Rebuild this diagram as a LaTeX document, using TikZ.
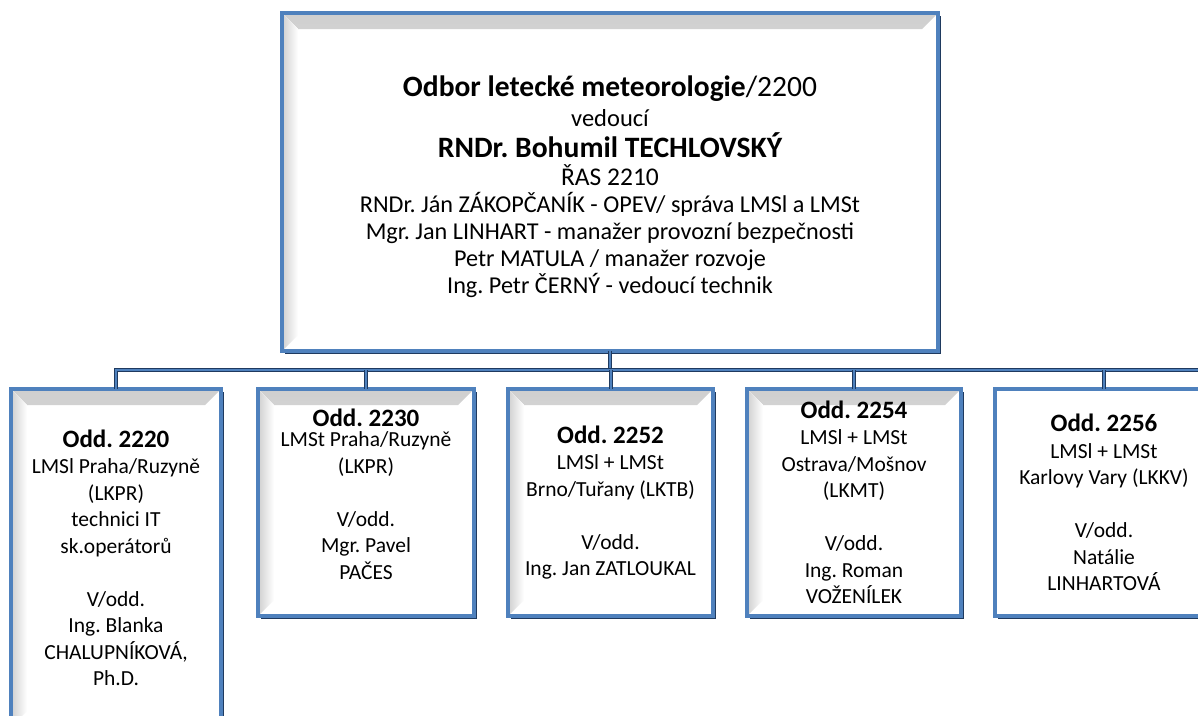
\documentclass[tikz,border=0pt]{standalone}
\usepackage{fontspec}
\setmainfont{Carlito}
\usepackage{tikz}
\usetikzlibrary{positioning,shadows}
\definecolor{BoxBlue}{HTML}{4F81BD}
\definecolor{BoxDark}{HTML}{1F3A5F}
\definecolor{BevelGray}{HTML}{CFCFCF}
\frenchspacing

\begin{document}
\begin{tikzpicture}[
  x=1pt,y=-1pt,
  node distance=34pt,
  orgbox/.style={draw=BoxBlue,fill=white,line width=3.5pt,outer sep=0pt,align=center,
    font=\fontsize{21.5}{26.5}\selectfont,
    drop shadow={shadow xshift=3pt,shadow yshift=-3pt,fill=BoxDark,opacity=1},
    path picture={
      \fill[top color=BevelGray,bottom color=white]
        (path picture bounding box.north west) -- (path picture bounding box.north east)
        -- ([xshift=-16pt,yshift=-16pt]path picture bounding box.north east)
        -- ([xshift=16pt,yshift=-16pt]path picture bounding box.north west) -- cycle;
      \fill[left color=BevelGray,right color=white]
        (path picture bounding box.north west) -- ([xshift=16pt,yshift=-16pt]path picture bounding box.north west)
        -- ([xshift=16pt,yshift=16pt]path picture bounding box.south west)
        -- (path picture bounding box.south west) -- cycle;
    }},
  flatbox/.style={orgbox,path picture={}},
  conn/.style={draw=BoxDark,line width=4pt,postaction={draw=BoxBlue,line width=2pt}}
]
\useasboundingbox (0,0) rectangle (1198,715);
% vedeni odboru
\node[orgbox,minimum width=656pt,minimum height=338pt,anchor=north] (odbor) at (610,13) {%
  {\fontsize{29.5}{30}\selectfont\rule{0pt}{30pt}\textbf{Odbor letecké meteorologie}/2200}\\[4pt]
  {\fontsize{24.5}{26}\selectfont vedoucí}\\[4pt]
  {\fontsize{29.6}{30}\selectfont\bfseries RNDr. Bohumil TECHLOVSKÝ}\\[2pt]
  {\fontsize{25.5}{28}\selectfont ŘAS 2210}\\
  {\fontsize{24.2}{26}\selectfont RNDr. Ján ZÁKOPČANÍK - OPEV/ správa LMSl a LMSt}\\[0.5pt]
  {\fontsize{24.2}{26}\selectfont Mgr. Jan LINHART - manažer provozní bezpečnosti}\\[0.5pt]
  {\fontsize{24.2}{26}\selectfont Petr MATULA / manažer rozvoje}\\[0.5pt]
  {\fontsize{24.2}{26}\selectfont Ing. Petr ČERNÝ - vedoucí technik}};
% oddeleni
\node[orgbox,minimum width=210pt,minimum height=338pt,anchor=north west] (odd2220) at (11,389) {%
  {\fontsize{25}{26.5}\selectfont\bfseries Odd. 2220}\\
  LMSl Praha/Ruzyně\\
  (LKPR)\\
  technici IT\\
  sk.operátorů\\[26.5pt]
  V/odd.\\
  Ing. Blanka\\
  CHALUPNÍKOVÁ,\\
  Ph.D.};
\node[orgbox,minimum width=216pt,minimum height=227pt,right=37pt of odd2220.north east,anchor=north west] (odd2230) {%
  {\fontsize{25}{26.5}\selectfont\bfseries Odd. 2230}\\[-6pt]
  LMSt Praha/Ruzyně\\
  (LKPR)\\[26.5pt]
  V/odd.\\
  Mgr. Pavel\\
  PAČES\rule[-17pt]{0pt}{17pt}};
\node[orgbox,minimum width=205pt,minimum height=227pt,right=of odd2230.north east,anchor=north west] (odd2252) {%
  {\fontsize{25}{26.5}\selectfont\bfseries Odd. 2252}\\
  LMSl + LMSt\\
  Brno/Tuřany (LKTB)\\[26.5pt]
  V/odd.\\
  Ing. Jan ZATLOUKAL};
\node[orgbox,minimum width=214pt,minimum height=227pt,right=of odd2252.north east,anchor=north west] (odd2254) {%
  {\fontsize{25}{26.5}\selectfont\bfseries Odd. 2254}\\
  LMSl + LMSt\\
  Ostrava/Mošnov\\
  (LKMT)\\[26.5pt]
  V/odd.\\
  Ing. Roman\\
  VOŽENÍLEK};
\node[flatbox,minimum width=218pt,minimum height=227pt,right=of odd2254.north east,anchor=north west] (odd2256) {%
  {\fontsize{25}{26.5}\selectfont\bfseries Odd. 2256}\\
  LMSl + LMSt\\
  Karlovy Vary (LKKV)\\[26.5pt]
  V/odd.\\
  Natálie\\
  LINHARTOVÁ};
% spojnice
\coordinate[below=19pt of odbor.south] (hub);
\coordinate (barend) at (1215,370);
\draw[conn] (odbor.south) -- (hub);
\draw[conn] (odd2220.north) |- (barend);
\draw[conn] (hub -| odd2230.north) -- (odd2230.north);
\draw[conn] (hub -| odd2252.north) -- (odd2252.north);
\draw[conn] (hub -| odd2254.north) -- (odd2254.north);
\draw[conn] (hub -| odd2256.north) -- (odd2256.north);
\end{tikzpicture}
\end{document}
